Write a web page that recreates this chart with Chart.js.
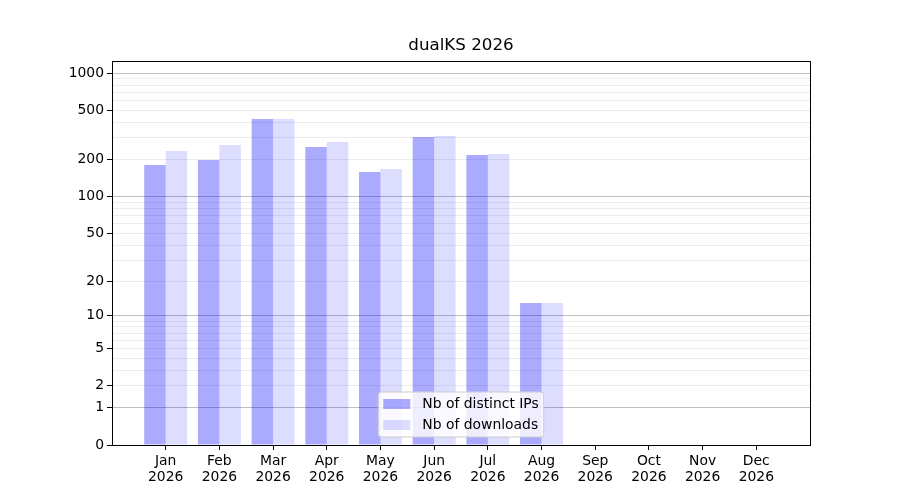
<!DOCTYPE html>
<html>
<head>
<meta charset="utf-8">
<script src="https://cdn.jsdelivr.net/npm/chart.js@4"></script>
<style>
  html, body { margin: 0; padding: 0; background: #fff; }
  #wrap { width: 900px; height: 500px; }
</style>
</head>
<body>
<div id="wrap"><canvas id="dualksChart" width="900" height="500"></canvas></div>
<script>
const chartTitle = "dualKS 2026";
const months = ["Jan", "Feb", "Mar", "Apr", "May", "Jun", "Jul", "Aug", "Sep", "Oct", "Nov", "Dec"];
const year = "2026";
const distinctIps = [180, 198, 425, 252, 158, 304, 217, 13, 0, 0, 0, 0];
const downloads = [234, 262, 425, 277, 167, 309, 221, 13, 0, 0, 0, 0];
const seriesLabels = ["Nb of distinct IPs", "Nb of downloads"];
const yTickValues = [0, 1, 2, 5, 10, 20, 50, 100, 200, 500, 1000];
const yMajorGrid = [1, 10, 100, 1000];
const yMax = 1250;

const FONT = "'DejaVu Sans', sans-serif";

// y axis is log10(1 + v)
const toAxis = v => Math.log10(1 + v);

const minorValues = [];
for (let d = 1; d <= 100; d *= 10) {
    for (let m = 2; m <= 9; m++) minorValues.push(m * d);
}
const yGridValues = [...new Set([...yTickValues, ...minorValues])].sort((a, b) => a - b);

const xLabels = ["", ...months, ""];
const pad = arr => [null, ...arr.map(toAxis), null];

const ipColor = "rgba(0,0,255,0.333)";
const dlColor = "rgba(0,0,255,0.133)";

const decorPlugin = {
    id: "decor",
    afterDatasetsDraw(chart) {
        const { ctx, chartArea: a } = chart;
        ctx.save();
        // spines
        ctx.strokeStyle = "#000";
        ctx.lineWidth = 1;
        ctx.strokeRect(Math.round(a.left) + 0.5, Math.round(a.top) + 0.5,
            Math.round(a.right - a.left), Math.round(a.bottom - a.top));

        // title
        ctx.fillStyle = "#000";
        ctx.font = "16.7px " + FONT;
        ctx.textAlign = "center";
        ctx.textBaseline = "middle";
        ctx.fillText(chartTitle, (a.left + a.right) / 2, 46);

        // legend, lower center
        ctx.font = "13.9px " + FONT;
        const tw = Math.max(...seriesLabels.map(s => ctx.measureText(s).width));
        const boxW = 5 + 27 + 12 + tw + 5;
        const boxH = 45;
        const bx = (a.left + a.right) / 2 - boxW / 2;
        const by = a.bottom - 8 - boxH;
        ctx.beginPath();
        ctx.roundRect(bx, by, boxW, boxH, 3);
        ctx.fillStyle = "rgba(255,255,255,0.8)";
        ctx.fill();
        ctx.strokeStyle = "#cccccc";
        ctx.stroke();
        const colors = [ipColor, dlColor];
        seriesLabels.forEach((s, i) => {
            const y = by + 7 + i * 21;
            ctx.fillStyle = colors[i];
            ctx.fillRect(bx + 5, y, 27, 10);
            ctx.fillStyle = "#000";
            ctx.textAlign = "left";
            ctx.textBaseline = "middle";
            ctx.fillText(s, bx + 44, y + 5.5);
        });
        ctx.restore();
    }
};

const ctx = document.getElementById("dualksChart").getContext("2d");

new Chart(ctx, {
    type: "bar",
    data: {
        labels: xLabels,
        datasets: [
            { label: seriesLabels[0], data: pad(distinctIps), backgroundColor: ipColor, borderWidth: 0 },
            { label: seriesLabels[1], data: pad(downloads), backgroundColor: dlColor, borderWidth: 0 }
        ]
    },
    options: {
        responsive: false,
        animation: false,
        devicePixelRatio: 1,
        layout: { padding: { left: 0, top: 61, right: 90, bottom: 0 } },
        datasets: { bar: { barPercentage: 1, categoryPercentage: 0.8 } },
        scales: {
            x: {
                offset: false,
                afterFit(scale) { scale.height = 55; },
                border: { display: false },
                grid: {
                    offset: false,
                    drawOnChartArea: false,
                    tickLength: 5,
                    tickColor: c => (c.index === 0 || c.index === xLabels.length - 1) ? "rgba(0,0,0,0)" : "#000"
                },
                ticks: {
                    autoSkip: false,
                    maxRotation: 0,
                    padding: 3,
                    color: "#000",
                    font: { family: FONT, size: 13.9, lineHeight: 1.15 },
                    callback(value) {
                        const m = this.getLabelForValue(value);
                        return m ? [m, year] : "";
                    }
                }
            },
            y: {
                type: "linear",
                min: 0,
                max: toAxis(yMax),
                afterFit(scale) { scale.width = 112; },
                afterBuildTicks(scale) {
                    scale.ticks = yGridValues.map(v => ({ value: toAxis(v) }));
                },
                border: { display: false },
                grid: {
                    tickLength: 5,
                    color: c => {
                        const v = yGridValues[c.index];
                        if (v === 0) return "rgba(0,0,0,0)";
                        return yMajorGrid.includes(v) ? "rgba(128,128,128,0.5)" : "rgba(128,128,128,0.15)";
                    },
                    tickColor: c => yTickValues.includes(yGridValues[c.index]) ? "#000" : "rgba(0,0,0,0)"
                },
                ticks: {
                    autoSkip: false,
                    padding: 3,
                    color: "#000",
                    font: { family: FONT, size: 13.9 },
                    callback(value, index) {
                        const v = yGridValues[index];
                        return yTickValues.includes(v) ? String(v) : "";
                    }
                }
            }
        },
        plugins: {
            legend: { display: false },
            title: { display: false },
            tooltip: { enabled: false }
        }
    },
    plugins: [decorPlugin]
});
</script>
</body>
</html>
